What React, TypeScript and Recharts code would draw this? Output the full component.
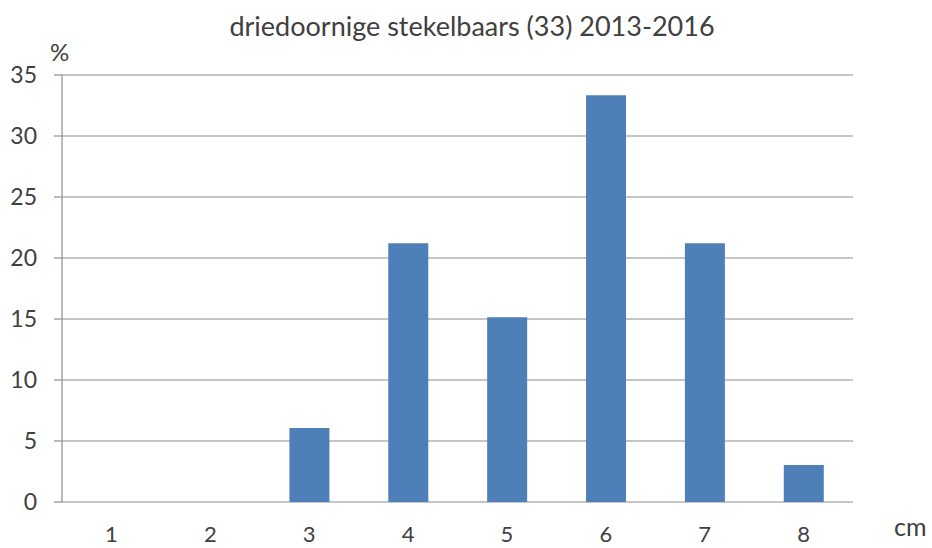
import React from 'react';
import { ComposedChart, Bar, XAxis, YAxis, CartesianGrid } from 'recharts';

const categories = ['1', '2', '3', '4', '5', '6', '7', '8'];
const percentages = [0, 0, 6.06, 21.21, 15.15, 33.33, 21.21, 3.03];
const yTicks = [0, 5, 10, 15, 20, 25, 30, 35];
const boundaryTicks = [0, 1, 2, 3, 4, 5, 6, 7, 8];
const title = 'driedoornige stekelbaars (33) 2013-2016';
const yUnit = '%';
const xUnit = 'cm';

const data = categories.map((c, i) => ({ cm: c, pct: percentages[i] }));

const FONT = 'Lato, "Open Sans", sans-serif';
const TEXT = '#404040';
const GRID = '#8e8e8e';

export default function App() {
  return (
    <div style={{ position: 'fixed', left: 0, top: 0, width: 932, height: 548, background: '#fff', fontFamily: FONT }}>
      <div style={{ position: 'absolute', left: 0, width: 944, top: 9, textAlign: 'center', fontSize: 27, color: TEXT, lineHeight: '33px' }}>{title}</div>
      <div style={{ position: 'absolute', left: 50, top: 37, fontSize: 24, color: TEXT, lineHeight: '29px' }}>{yUnit}</div>
      <div style={{ position: 'absolute', left: 894, top: 511, fontSize: 25, color: TEXT, lineHeight: '30px' }}>{xUnit}</div>
      <ComposedChart
        width={932}
        height={548}
        data={data}
        margin={{ top: 75, right: 79, bottom: 0, left: 0 }}
        barCategoryGap="30%"
        style={{ position: 'absolute', left: 0, top: 0 }}
      >
        <CartesianGrid xAxisId="cat" horizontal vertical={false} stroke={GRID} strokeWidth={1.2} />
        <XAxis
          xAxisId="grid"
          type="number"
          domain={[0, 8]}
          ticks={boundaryTicks}
          allowDataOverflow
          height={0}
          tick={false}
          tickSize={8}
          tickLine={{ stroke: GRID, strokeWidth: 1.2 }}
          axisLine={{ stroke: GRID, strokeWidth: 1.2 }}
        />
        <XAxis
          xAxisId="cat"
          dataKey="cm"
          type="category"
          height={46}
          tickLine={false}
          axisLine={false}
          tickMargin={18}
          tick={{ fill: TEXT, fontSize: 22, fontFamily: FONT }}
        />
        <YAxis
          domain={[0, 35]}
          ticks={yTicks}
          width={62}
          tickSize={8}
          tickMargin={17}
          interval={0}
          tickLine={{ stroke: GRID, strokeWidth: 1.2 }}
          axisLine={{ stroke: GRID, strokeWidth: 1.2 }}
          tick={{ fill: TEXT, fontSize: 23, fontFamily: FONT }}
        />
        <Bar xAxisId="cat" dataKey="pct" fill="#4f7fb8" isAnimationActive={false} />
      </ComposedChart>
    </div>
  );
}
